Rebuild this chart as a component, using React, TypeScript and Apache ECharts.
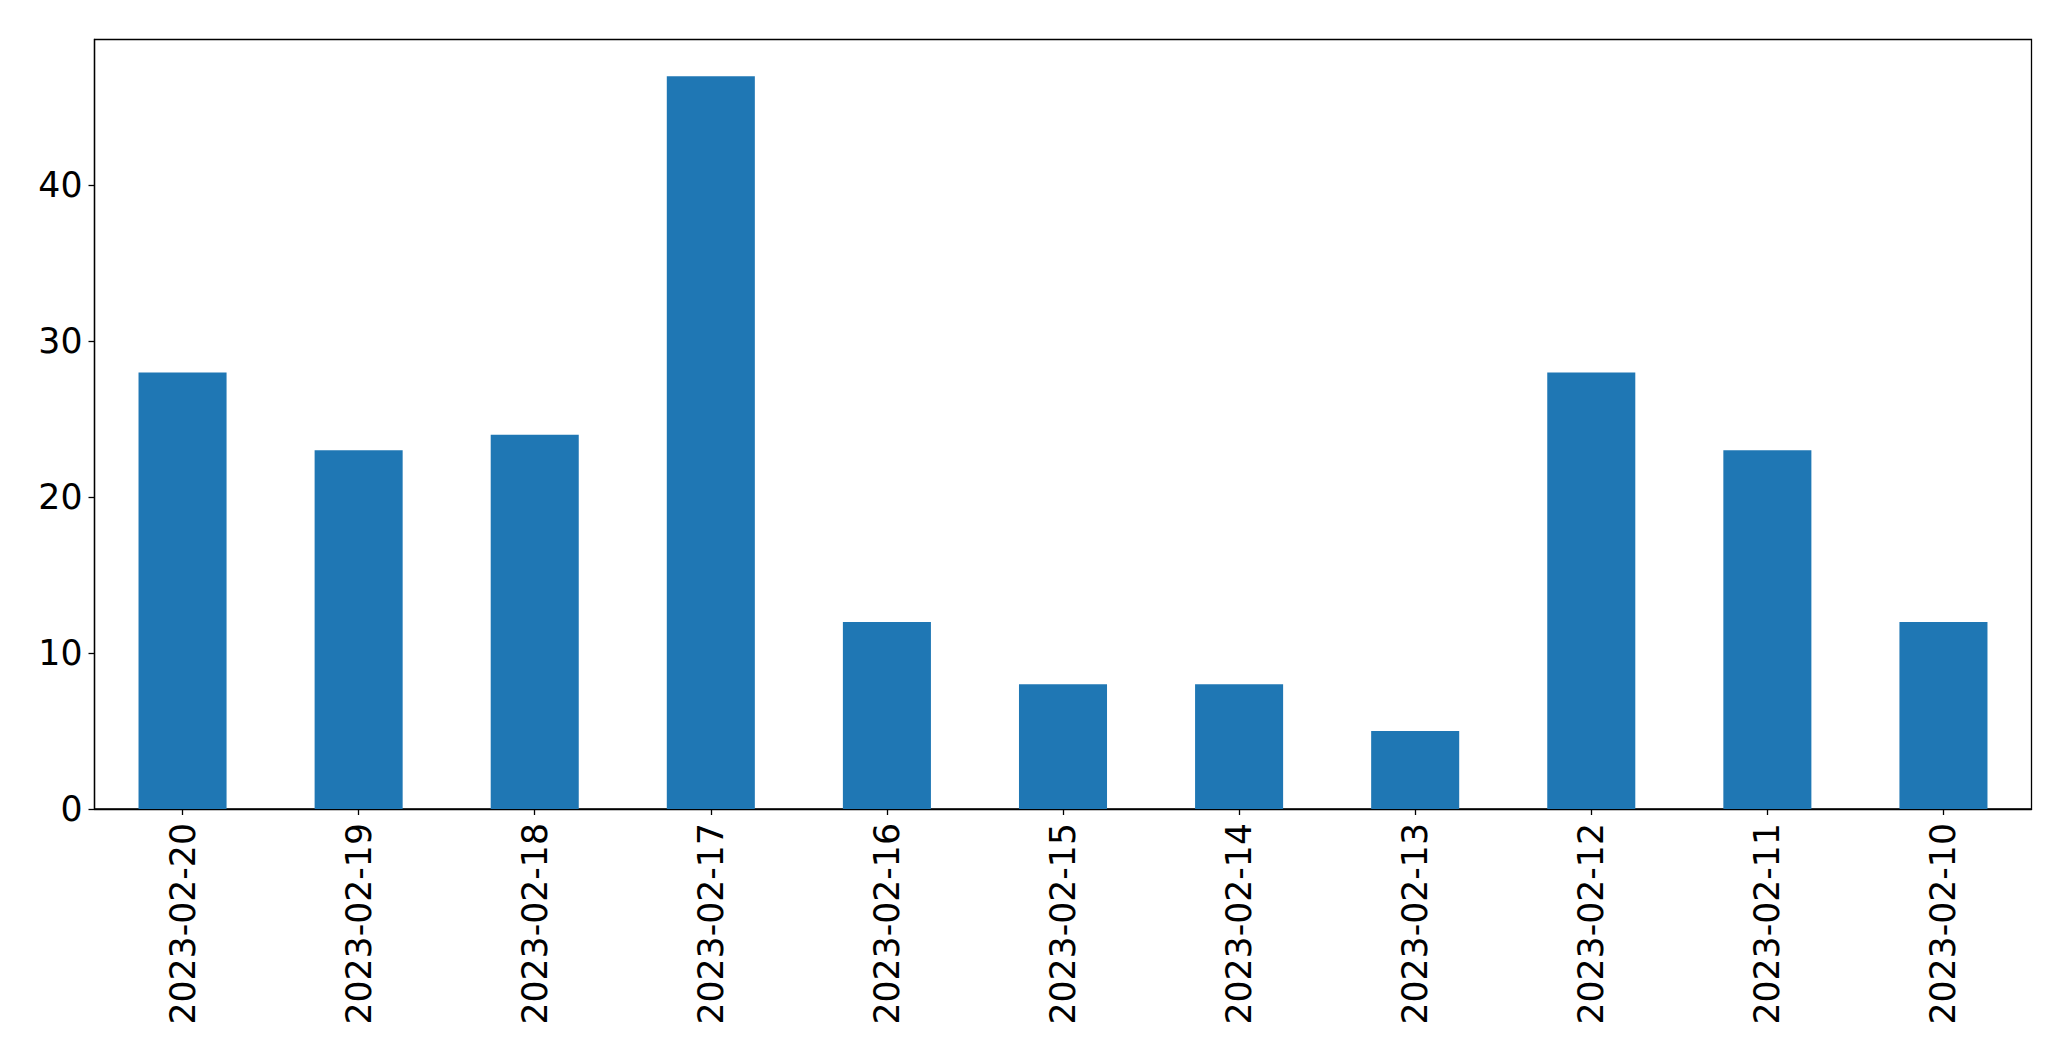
import React, { useEffect, useRef } from "react";
import * as echarts from "echarts";

const categories = [
  "2023-02-20", "2023-02-19", "2023-02-18", "2023-02-17", "2023-02-16", "2023-02-15",
  "2023-02-14", "2023-02-13", "2023-02-12", "2023-02-11", "2023-02-10",
];
const counts = [28, 23, 24, 47, 12, 8, 8, 5, 28, 23, 12];

export default function App() {
  const ref = useRef<HTMLDivElement>(null);
  useEffect(() => {
    if (!ref.current) return;
    const chart = echarts.init(ref.current, null, { renderer: "svg" });
    const font = "DejaVu Sans";
    chart.setOption({
      animation: false,
      backgroundColor: "#ffffff",
      grid: {
        left: 94.5,
        right: 39.5,
        top: 39.5,
        bottom: 252,
        show: true,
        borderColor: "#000000",
        borderWidth: 1.3,
        backgroundColor: "transparent",
      },
      xAxis: {
        type: "category",
        data: categories,
        boundaryGap: true,
        axisLine: { show: true, lineStyle: { color: "#000", width: 1.3 } },
        axisTick: { show: true, alignWithLabel: true, length: 6, lineStyle: { color: "#000", width: 1.3 } },
        axisLabel: {
          rotate: 90,
          interval: 0,
          margin: 14,
          color: "#000",
          fontFamily: font,
          fontSize: 34.7,
        },
        splitLine: { show: false },
      },
      yAxis: {
        type: "value",
        min: 0,
        max: 49.35,
        interval: 10,
        axisLine: { show: true, lineStyle: { color: "#000", width: 1.3 } },
        axisTick: { show: true, length: 6, lineStyle: { color: "#000", width: 1.3 } },
        axisLabel: {
          showMaxLabel: false,
          margin: 12,
          color: "#000",
          fontFamily: font,
          fontSize: 34.7,
        },
        splitLine: { show: false },
      },
      series: [
        {
          type: "bar",
          data: counts,
          barWidth: "50%",
          itemStyle: { color: "#1f77b4" },
        },
      ],
    });
    return () => chart.dispose();
  }, []);
  return (
    <div
      ref={ref}
      style={{ position: "fixed", left: 0, top: 0, width: 2071, height: 1061 }}
    />
  );
}
